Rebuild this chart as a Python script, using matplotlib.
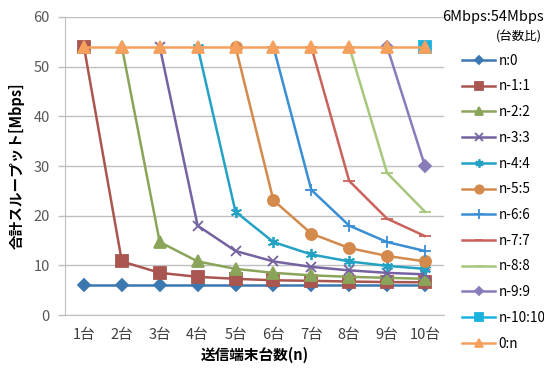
import matplotlib.pyplot as plt

plt.rcParams['font.family'] = ['Noto Sans CJK JP', 'DejaVu Sans']

# ---- Data ---- #
terminals = [1, 2, 3, 4, 5, 6, 7, 8, 9, 10]
tick_labels = ["1台", "2台", "3台", "4台", "5台", "6台", "7台", "8台", "9台", "10台"]

n_0 = [6.0, 6.0, 6.0, 6.0, 6.0, 6.0, 6.0, 6.0, 6.0, 6.0]
n_1_1 = [54.0, 10.8, 8.5, 7.7, 7.3, 7.0, 6.9, 6.75, 6.65, 6.6]
n_2_2 = [54.0, 14.7, 10.8, 9.3, 8.5, 8.0, 7.7, 7.5, 7.3]
n_3_3 = [54.0, 18.0, 12.9, 10.8, 9.7, 9.0, 8.5, 8.2]
n_4_4 = [54.0, 20.8, 14.7, 12.2, 10.8, 9.9, 9.3]
n_5_5 = [54.0, 23.1, 16.4, 13.5, 11.9, 10.8]
n_6_6 = [54.0, 25.2, 18.0, 14.7, 12.9]
n_7_7 = [54.0, 27.0, 19.4, 15.9]
n_8_8 = [54.0, 28.6, 20.8]
n_9_9 = [54.0, 30.0]
n_10_10 = [54.0]
zero_n = [54.0, 54.0, 54.0, 54.0, 54.0, 54.0, 54.0, 54.0, 54.0, 54.0]

series = [
    ("n:0", n_0, "#3B78B0", "D", 6),
    ("n-1:1", n_1_1, "#A95550", "s", 8),
    ("n-2:2", n_2_2, "#8AA55A", "^", 8),
    ("n-3:3", n_3_3, "#7562A0", "x", 7),
    ("n-4:4", n_4_4, "#24A2C4", (6, 2, 0), 8),
    ("n-5:5", n_5_5, "#D38A4C", "o", 8),
    ("n-6:6", n_6_6, "#3A8ED4", "+", 9),
    ("n-7:7", n_7_7, "#C9625C", "_", 8),
    ("n-8:8", n_8_8, "#A6C77C", "_", 8),
    ("n-9:9", n_9_9, "#8A7BBA", "D", 6),
    ("n-10:10", n_10_10, "#1BB2E0", "s", 8),
    ("0:n", zero_n, "#F5A05C", "^", 8),
]

# ---- Chart ---- #
fig = plt.figure(figsize=(5.44, 3.76), dpi=100)
ax = fig.add_axes([0.1195, 0.162, 0.6965, 0.793])

for label, values, color, marker, size in series:
    xs = terminals[len(terminals) - len(values):]
    ax.plot(xs, values, color=color, marker=marker, markersize=size,
            markeredgecolor=color, markeredgewidth=1.3, linewidth=1.8,
            label=label)

ax.set_xlim(0.5, 10.5)
ax.set_ylim(0, 60)
ax.set_yticks(range(0, 61, 10))
ax.set_xticks(terminals)
ax.set_xticklabels(tick_labels)
ax.tick_params(axis='x', length=0, pad=9, labelsize=10.5, colors="#404040")
ax.tick_params(axis='y', length=5, width=1, color="#BFBFBF", pad=6,
               labelsize=10.5, labelcolor="#595959")
ax.grid(axis='y', color="#BFBFBF", linewidth=1)
ax.set_axisbelow(True)
for side in ("top", "right"):
    ax.spines[side].set_visible(False)
for side in ("left", "bottom"):
    ax.spines[side].set_color("#BFBFBF")

ax.set_xlabel("送信端末台数(n)", fontsize=10.5, fontweight="bold", labelpad=4)
ax.set_ylabel("合計スループット[Mbps]", fontsize=10.5, fontweight="bold", labelpad=6)

fig.text(0.999, 0.955, "6Mbps:54Mbps", ha="right", va="center", fontsize=10.5)
fig.text(0.997, 0.902, "(台数比)", ha="right", va="center", fontsize=9)

fig.legend(loc="upper left", bbox_to_anchor=(0.85, 0.857), frameon=False,
           fontsize=9.8, handlelength=2.4, handletextpad=0.25,
           labelspacing=0.86, borderaxespad=0, borderpad=0, markerscale=0.75)

fig.savefig("out.png", dpi=100)
